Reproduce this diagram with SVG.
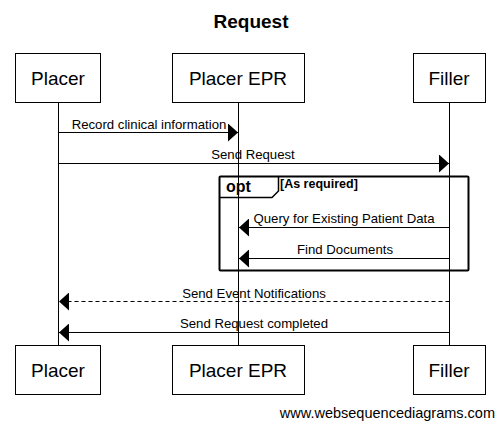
<svg xmlns="http://www.w3.org/2000/svg" width="499" height="429" viewBox="0 0 499 429">
<style>
text{font-family:"Liberation Sans",Arial,sans-serif;fill:#000}
.box{fill:#fff;stroke:#000;stroke-width:1}
.actor{font-size:19px;text-anchor:middle}
.lbl{font-size:13.2px;text-anchor:middle}
.life{stroke:#000;stroke-width:1}
.msg{stroke:#000;stroke-width:1;fill:none}
</style>
<defs>
<marker id="ah" viewBox="0 0 10 18" refX="10" refY="9" markerWidth="10" markerHeight="18" markerUnits="userSpaceOnUse" orient="auto"><path d="M0,0 L10,9 L0,18 Z" fill="#000"/></marker>
</defs>
<rect width="499" height="429" fill="#fff"/>
<text x="251" y="28" font-size="19" font-weight="bold" text-anchor="middle">Request</text>
<g id="lifelines">
<line class="life" x1="58.5" y1="102" x2="58.5" y2="345"/>
<line class="life" x1="238.5" y1="102" x2="238.5" y2="345"/>
<line class="life" x1="449.5" y1="102" x2="449.5" y2="345"/>
</g>
<g id="opt-frame">
<rect x="219.5" y="176.5" width="249" height="94" fill="none" stroke="#000" stroke-width="2" rx="1"/>
<path d="M219.5,197.5 L272,197.5 L278.5,191 L278.5,176.5" fill="none" stroke="#000" stroke-width="1.5"/>
<text x="226" y="192" font-size="16" font-weight="bold">opt</text>
<text x="280" y="188" font-size="12.5" font-weight="bold">[As required]</text>
</g>
<g id="connectors">
<line class="msg" x1="58.5" y1="132.5" x2="238" y2="132.5" marker-end="url(#ah)"/>
<text class="lbl" x="149" y="129">Record clinical information</text>
<line class="msg" x1="58.5" y1="163.5" x2="449" y2="163.5" marker-end="url(#ah)"/>
<text class="lbl" x="253" y="159">Send Request</text>
<line class="msg" x1="449.5" y1="227.5" x2="239" y2="227.5" marker-end="url(#ah)"/>
<text class="lbl" x="344" y="223">Query for Existing Patient Data</text>
<line class="msg" x1="449.5" y1="258.5" x2="239" y2="258.5" marker-end="url(#ah)"/>
<text class="lbl" x="345" y="254">Find Documents</text>
<line class="msg" x1="449.5" y1="301.5" x2="59" y2="301.5" stroke-dasharray="4,3" marker-end="url(#ah)"/>
<text class="lbl" x="254" y="298">Send Event Notifications</text>
<line class="msg" x1="449.5" y1="332.5" x2="59" y2="332.5" marker-end="url(#ah)"/>
<text class="lbl" x="254" y="328">Send Request completed</text>
</g>
<g id="placer-top"><rect class="box" x="15.5" y="53.5" width="85" height="49"/><text class="actor" x="58" y="85">Placer</text></g>
<g id="placerepr-top"><rect class="box" x="172.5" y="53.5" width="132" height="49"/><text class="actor" x="238" y="85">Placer EPR</text></g>
<g id="filler-top"><rect class="box" x="413.5" y="53.5" width="72" height="49"/><text class="actor" x="449" y="85">Filler</text></g>
<g id="placer-bottom"><rect class="box" x="15.5" y="345.5" width="85" height="49"/><text class="actor" x="58" y="377">Placer</text></g>
<g id="placerepr-bottom"><rect class="box" x="172.5" y="345.5" width="132" height="49"/><text class="actor" x="238" y="377">Placer EPR</text></g>
<g id="filler-bottom"><rect class="box" x="413.5" y="345.5" width="72" height="49"/><text class="actor" x="449" y="377">Filler</text></g>
<text x="495" y="418" font-size="14.5" text-anchor="end">www.websequencediagrams.com</text>
</svg>
